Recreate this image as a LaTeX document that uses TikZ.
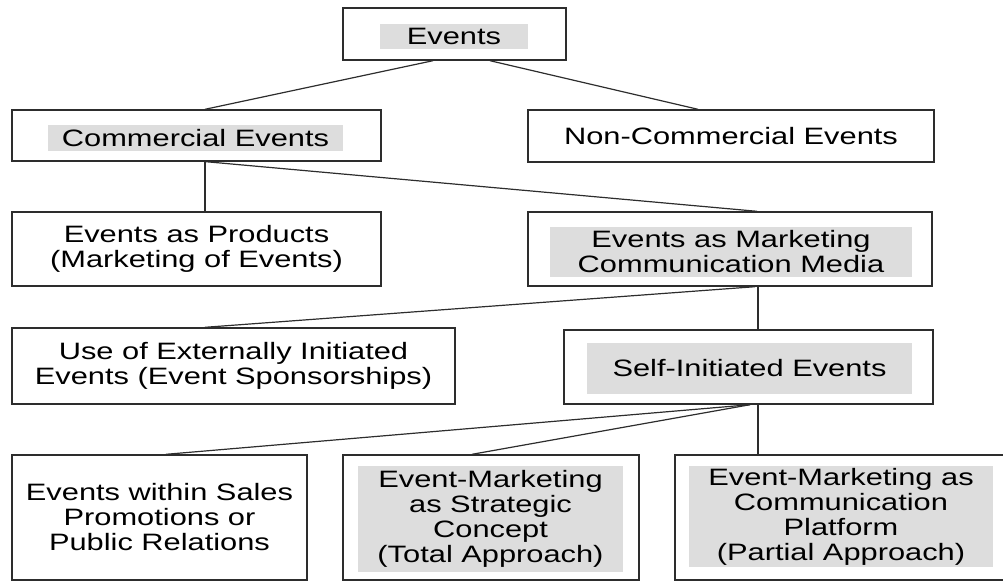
\documentclass[tikz,border=0pt]{standalone}
\usepackage{fontspec}
\setmainfont{Liberation Sans}[FakeStretch=1.3]
\usepackage{tikz}
\usetikzlibrary{calc}
\definecolor{framegray}{RGB}{45,45,45}
\definecolor{fillgray}{RGB}{221,221,221}
\tikzstyle{box} = [draw=framegray, line width=1.4pt, inner sep=0pt, align=center]
\tikzstyle{hilite} = [fill=fillgray, inner sep=0pt, align=center]
\tikzstyle{link} = [draw=framegray, line width=1.2pt]

\begin{document}
\begin{tikzpicture}[x=1pt, y=-1pt, font=\fontsize{23.7}{25}\selectfont]
		\useasboundingbox (0, 0) rectangle (1003, 581);
		% first level
		\node[box, minimum width=223, minimum height=52] (events) at (454.5, 34) {};
		\node[hilite, minimum width=148, minimum height=25] (eventsT) at (454, 36.5) {Events};
		% second level
		\node[box, minimum width=369, minimum height=51] (commercial) at (196.5, 135.5) {};
		\node[hilite, minimum width=295, minimum height=26] (commercialT) at (195.5, 138) {Commercial Events};
		\node[box, minimum width=406, minimum height=52] (noncommercial) at (731, 136) {Non-Commercial Events};
		% third level
		\node[box, minimum width=369, minimum height=74] (products) at (196.5, 249) {Events as Products\\(Marketing of Events)};
		\node[box, minimum width=404, minimum height=74] (media) at (730, 249) {};
		\node[hilite, minimum width=362, minimum height=50] (mediaT) at (731, 252) {Events as Marketing\\Communication Media};
		% fourth level
		\node[box, minimum width=443, minimum height=76] (external) at (233.5, 366) {Use of Externally Initiated\\Events (Event Sponsorships)};
		\node[box, minimum width=369, minimum height=74] (selfinit) at (748.5, 367) {};
		\node[hilite, minimum width=325, minimum height=51] (selfinitT) at (749.5, 368.5) {Self-Initiated Events};
		% fifth level
		\node[box, minimum width=295, minimum height=125] (sales) at (159.5, 517.5) {Events within Sales\\Promotions or\\Public Relations};
		\node[box, minimum width=296, minimum height=125] (strategic) at (491, 517.5) {};
		\node[hilite, minimum width=265, minimum height=106] (strategicT) at (490.5, 519) {Event-Marketing\\as Strategic\\Concept\\(Total Approach)};
		\node[box, minimum width=332, minimum height=125] (platform) at (841, 517.5) {};
		\node[hilite, minimum width=304, minimum height=101] (platformT) at (841, 516.5) {Event-Marketing as\\Communication\\Platform\\(Partial Approach)};

		% connectors
		\draw[link] ($(events.south)+(-21.5,0)$) -- ($(commercial.north)+(8.5,0)$);
		\draw[link] ($(events.south)+(35.5,0)$) -- ($(noncommercial.north)+(-33,0)$);
		\draw[link] ($(commercial.south)+(8.5,0)$) -- ($(products.north)+(8.5,0)$);
		\draw[link] ($(commercial.south)+(9.5,0)$) -- ($(media.north)+(27,0)$);
		\draw[link] ($(media.south)+(25,0)$) -- ($(external.north)+(-28.5,0)$);
		\draw[link] ($(media.south)+(28,0)$) -- ($(selfinit.north)+(9.5,0)$);
		\draw[link] ($(selfinit.south)+(1.5,0)$) -- ($(sales.north)+(6.5,0)$);
		\draw[link] ($(selfinit.south)+(1.5,0)$) -- ($(strategic.north)+(-19,0)$);
		\draw[link] ($(selfinit.south)+(9.5,0)$) -- ($(platform.north)+(-83,0)$);
\end{tikzpicture}
\end{document}
